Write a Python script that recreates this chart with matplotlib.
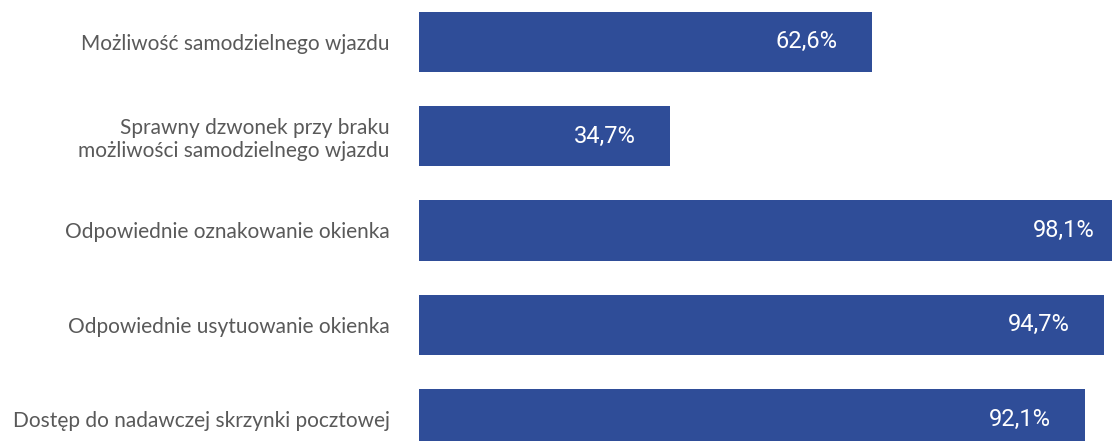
import matplotlib.pyplot as plt

# dane
kategorie = ['Możliwość samodzielnego wjazdu',
             'Sprawny dzwonek przy braku\nmożliwości samodzielnego wjazdu',
             'Odpowiednie oznakowanie okienka',
             'Odpowiednie usytuowanie okienka',
             'Dostęp do nadawczej skrzynki pocztowej']
wartosci = [62.6, 34.7, 98.1, 94.7, 92.1]
etykiety = ['62,6%', '34,7%', '98,1%', '94,7%', '92,1%']

kolor = '#2F4D98'

fig = plt.figure(figsize=(11.12, 4.41), dpi=100)
ax = fig.add_axes([419/1112, 0, 1 - 419/1112, 1])

y = list(range(len(kategorie)))
ax.barh(y, wartosci, height=0.64, color=kolor)

ax.set_xlim(0, 95.85)
ax.set_ylim(len(kategorie) - 1 + 0.233, -0.445)

for i, (v, e) in enumerate(zip(wartosci, etykiety)):
    ax.annotate(e, (v, i), xytext=(-24.5, 0), textcoords='offset points',
                ha='right', va='center', color='white', fontsize=17,
                family='Roboto', annotation_clip=False)

ax.set_yticks(y)
ax.set_yticklabels(kategorie, fontsize=15, color='#595959', family='Lato')
ax.tick_params(axis='y', length=0, pad=21)
ax.set_xticks([])
for s in ax.spines.values():
    s.set_visible(False)

fig.savefig('out.png', dpi=100)
